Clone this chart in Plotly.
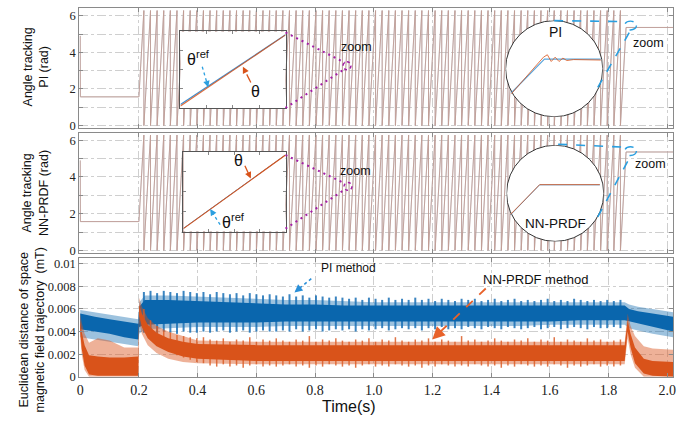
import plotly.graph_objects as go

W, H = 691, 425
def X(p): return p / W
def Y(p): return 1 - p / H

# ---------------- data ----------------
TWO_PI = 6.283
hold_t = [0.0, 0.0005, 0.2]
hold_angle = [4.9, 1.57, 1.57]
wrap_times = [0.2169, 0.2395, 0.2620, 0.2846, 0.3071, 0.3297, 0.3522, 0.3748, 0.3973, 0.4199,
              0.4424, 0.4650, 0.4875, 0.5101, 0.5326, 0.5552, 0.5777, 0.6003, 0.6228, 0.6454,
              0.6679, 0.6905, 0.7130, 0.7356, 0.7581, 0.7807, 0.8032, 0.8258, 0.8483, 0.8709,
              0.8934, 0.9160, 0.9385, 0.9611, 0.9836, 1.0062, 1.0287, 1.0513, 1.0738, 1.0964,
              1.1189, 1.1415, 1.1640, 1.1866, 1.2091, 1.2317, 1.2542, 1.2768, 1.2993, 1.3219,
              1.3444, 1.3670, 1.3895, 1.4121, 1.4346, 1.4572, 1.4797, 1.5023, 1.5248, 1.5474,
              1.5699, 1.5925, 1.6150, 1.6376, 1.6601, 1.6827, 1.7052, 1.7278, 1.7503, 1.7729,
              1.7954, 1.8180, 1.8405]
final_t = [1.8597, 2.02]
final_angle = [5.36, 5.36]

time_ticks = [0, 0.2, 0.4, 0.6, 0.8, 1.0, 1.2, 1.4, 1.6, 1.8, 2.0]
time_labels = ["0", "0.2", "0.4", "0.6", "0.8", "1.0", "1.2", "1.4", "1.6", "1.8", "2.0"]
angle_ticks = [0, 1, 2, 3, 4, 5, 6]
angle_labels = ["0", "", "2", "", "4", "", "6"]
dist_ticks = [0, 0.002, 0.004, 0.006, 0.008, 0.01]
dist_labels = ["0", "0.002", "0.004", "0.006", "0.008", "0.01"]

# Euclidean distance envelopes (x1e-3 mT)
pi_t = [0, 0.05, 0.10, 0.15, 0.198, 0.201, 0.22, 0.3, 0.4, 0.5, 0.6, 0.7, 0.8, 0.9, 1.0,
        1.1, 1.2, 1.3, 1.4, 1.5, 1.6, 1.7, 1.8, 1.855, 1.87, 1.9, 1.95, 2.02]
pi_spike_hi = [5.9, 5.7, 5.5, 5.3, 5.1, 6.6, 7.2, 7.2, 7.1, 7.0, 6.9, 6.8, 6.8, 6.7, 6.6,
               6.6, 6.6, 6.6, 6.6, 6.6, 6.6, 6.6, 6.6, 6.6, 6.4, 6.2, 6.0, 5.7]
pi_core_hi = [5.6, 5.3, 5.1, 4.9, 4.7, 6.2, 6.8, 6.8, 6.7, 6.6, 6.5, 6.4, 6.4, 6.3, 6.3,
              6.3, 6.3, 6.3, 6.3, 6.3, 6.3, 6.3, 6.3, 6.3, 6.0, 5.8, 5.6, 5.3]
pi_core_lo = [4.2, 4.0, 3.8, 3.5, 3.3, 4.4, 4.6, 4.7, 4.8, 4.8, 4.8, 4.9, 4.9, 4.9, 4.9,
              4.9, 4.9, 4.9, 4.9, 4.9, 4.9, 5.0, 5.0, 5.0, 4.9, 4.7, 4.4, 4.0]
pi_spike_lo = [3.5, 3.3, 3.1, 2.9, 2.7, 3.8, 4.2, 4.3, 4.4, 4.4, 4.4, 4.5, 4.5, 4.5, 4.5,
               4.5, 4.5, 4.5, 4.5, 4.5, 4.6, 4.6, 4.6, 4.6, 4.3, 4.1, 3.8, 3.5]

# oscillation peaks / troughs of the PI error at each electrical period
pi_stripe_hi = [7.5, 7.6, 7.4, 7.6, 7.5, 7.4, 7.6, 7.5, 7.4, 7.5,
                7.3, 7.5, 7.4, 7.3, 7.4, 7.2, 7.4, 7.3, 7.2, 7.3,
                7.2, 7.1, 7.3, 7.1, 7.2, 7.0, 7.2, 7.1, 7.0, 7.1,
                7.0, 6.9, 7.0, 6.8, 7.0, 6.9, 6.8, 7.0, 6.8, 6.9,
                6.8, 7.0, 6.8, 6.9, 6.7, 6.9, 6.8, 6.7, 6.9, 6.8,
                6.9, 6.7, 6.8, 6.9, 6.7, 6.8, 6.9, 6.7, 6.8, 6.7,
                6.8, 6.9, 6.7, 6.8, 6.7, 6.9, 6.8, 6.7, 6.8, 6.7,
                6.8, 6.7, 6.8]
pi_stripe_lo = [3.9, 4.0, 3.8, 4.0, 3.9, 3.8, 4.0, 3.9, 3.9, 4.0,
                3.9, 4.0, 4.1, 3.9, 4.0, 4.1, 3.9, 4.0, 4.1, 4.0,
                4.0, 4.1, 4.0, 4.2, 4.0, 4.1, 4.2, 4.0, 4.1, 4.2,
                4.1, 4.2, 4.0, 4.2, 4.1, 4.2, 4.3, 4.1, 4.2, 4.3,
                4.2, 4.3, 4.1, 4.3, 4.2, 4.4, 4.2, 4.3, 4.2, 4.4,
                4.3, 4.2, 4.4, 4.3, 4.2, 4.4, 4.3, 4.2, 4.3, 4.4,
                4.2, 4.3, 4.4, 4.2, 4.3, 4.4, 4.3, 4.2, 4.4, 4.3,
                4.3, 4.4, 4.3]

nn_t = [0, 0.005, 0.015, 0.03, 0.06, 0.1, 0.15, 0.198, 0.201, 0.21, 0.23, 0.26, 0.3, 0.35,
        0.4, 0.6, 0.8, 1.0, 1.2, 1.4, 1.6, 1.8, 1.855, 1.865, 1.875, 1.89, 1.92, 1.95, 2.02]
nn_spike_hi = [5.6, 4.8, 3.8, 3.0, 3.4, 3.2, 2.6, 2.6, 7.0, 6.2, 5.2, 4.5, 4.0, 3.6,
               3.2, 3.1, 3.1, 3.1, 3.1, 3.1, 3.1, 3.1, 3.1, 5.6, 4.5, 3.6, 2.7, 2.5, 2.4]
nn_core_hi = [5.0, 4.0, 2.8, 1.9, 1.8, 1.7, 1.7, 1.8, 6.4, 5.6, 4.6, 3.9, 3.4, 3.1,
              2.9, 2.8, 2.8, 2.8, 2.8, 2.8, 2.8, 2.8, 2.8, 5.0, 3.8, 2.6, 1.6, 1.4, 1.3]
nn_core_lo = [4.0, 2.5, 1.0, 0.2, 0.1, 0.1, 0.1, 0.1, 5.4, 4.4, 3.4, 2.7, 2.2, 1.8,
              1.6, 1.4, 1.4, 1.4, 1.4, 1.4, 1.4, 1.4, 1.4, 4.0, 2.6, 1.2, 0.3, 0.1, 0.0]
nn_spike_lo = [3.5, 2.0, 0.6, 0.0, 0.0, 0.0, 0.0, 0.0, 4.8, 3.8, 2.8, 2.1, 1.6, 1.3,
               1.2, 1.1, 1.1, 1.1, 1.1, 1.1, 1.1, 1.1, 1.1, 3.4, 2.0, 0.8, 0.0, 0.0, 0.0]
nn_stripe_hi = [6.0, 5.0, 4.5, 4.1, 3.9, 3.7, 3.6, 3.5, 3.4, 3.5,
                3.3, 3.2, 3.4, 3.1, 3.3, 3.2, 3.5, 3.1, 3.3, 3.2,
                3.4, 3.2, 3.1, 3.3, 3.2, 3.6, 3.1, 3.3, 3.2, 3.4,
                3.2, 3.1, 3.3, 3.2, 3.4, 3.1, 3.3, 3.2, 3.5, 3.2,
                3.1, 3.3, 3.2, 3.4, 3.1, 3.3, 3.2, 3.1, 3.6, 3.2,
                3.3, 3.1, 3.2, 3.4, 3.2, 3.1, 3.3, 3.2, 3.4, 3.1,
                3.3, 3.2, 3.5, 3.1, 3.3, 3.2, 3.1, 3.4, 3.2, 3.3,
                3.1, 3.2, 3.3]
nn_stripe_lo = [4.6, 3.6, 3.0, 2.5, 2.2, 1.9, 1.7, 1.5, 1.3, 1.2,
                1.0, 0.9, 1.1, 0.9, 1.0, 0.8, 1.0, 1.1, 0.9, 1.0,
                0.9, 1.0, 1.1, 0.9, 1.0, 0.8, 1.0, 0.9, 1.1, 1.0,
                0.9, 1.0, 0.8, 1.0, 1.1, 0.9, 1.0, 0.9, 1.1, 1.0,
                0.9, 1.0, 0.8, 1.0, 0.9, 1.1, 1.0, 0.9, 1.0, 0.9,
                1.1, 1.0, 0.9, 1.0, 0.8, 1.0, 0.9, 1.1, 1.0, 0.9,
                1.0, 0.9, 1.1, 1.0, 0.8, 1.0, 0.9, 1.0, 1.1, 0.9,
                1.0, 0.9, 1.0]

# zoomed insets (normalised)
box1_x = [0.0, 0.25, 0.5, 0.75, 1.0]
box1_ref = [0.045, 0.275, 0.50, 0.73, 0.955]
box1_theta = [0.025, 0.255, 0.49, 0.725, 0.955]
box2_x = [0.0, 1.0]
box2_ref = [0.04, 0.965]
box2_theta = [0.037, 0.963]
pi_zoom_x = [0.06, 0.39, 0.43, 0.47, 0.51, 0.55, 0.59, 0.63, 0.70, 0.98]
pi_zoom_theta = [0.24, 0.62, 0.645, 0.575, 0.62, 0.575, 0.61, 0.585, 0.595, 0.59]
pi_zoom_ref_x = [0.06, 0.40, 0.98]
pi_zoom_ref = [0.25, 0.60, 0.60]
nn_zoom_x = [0.04, 0.34, 0.96]
nn_zoom_theta = [0.28, 0.59, 0.59]
nn_zoom_ref = [0.275, 0.588, 0.588]

# ---------------- styles ----------------
REF_C = "#a7a8b6"
TH_C = "#d6937a"
BLUE = "#0a66ad"
ORANGE = "#d9531a"
PURPLE = "#a21ea6"
CYAN = "#2a9fe0"
GRID = "#cfcfcf"
AX = "#8a8a8a"
SANS = "Liberation Sans"
SERIF = "Liberation Serif"

def angle_path():
    xs = list(hold_t)
    ys = list(hold_angle)
    for w in wrap_times:
        xs += [w, w]
        ys += [TWO_PI, 0.0]
    xs += final_t
    ys += final_angle
    return xs, ys

fig = go.Figure()
ax_, ay_ = angle_path()
for xa, ya in (("x", "y"), ("x2", "y2")):
    fig.add_trace(go.Scatter(x=ax_, y=ay_, mode="lines", xaxis=xa, yaxis=ya,
                             line=dict(color=REF_C, width=0.9)))
    fig.add_trace(go.Scatter(x=ax_, y=ay_, mode="lines", xaxis=xa, yaxis=ya, opacity=0.6,
                             line=dict(color=TH_C, width=0.8)))

def band(t, hi, lo, color, op):
    xs = list(t) + list(t)[::-1]
    ys = [v * 1e-3 for v in hi] + [v * 1e-3 for v in lo][::-1]
    fig.add_trace(go.Scatter(x=xs, y=ys, mode="lines", fill="toself", xaxis="x3", yaxis="y3",
                             fillcolor=color, opacity=op, line=dict(width=0, color=color)))

def stripes(t, hi, lo, color, width, op):
    xs, ys = [], []
    for ti, h, l in zip(t, hi, lo):
        xs += [ti, ti, None]
        ys += [l * 1e-3, h * 1e-3, None]
    fig.add_trace(go.Scatter(x=xs, y=ys, mode="lines", xaxis="x3", yaxis="y3", opacity=op,
                             line=dict(color=color, width=width)))

band(pi_t, pi_spike_hi, pi_spike_lo, BLUE, 0.4)
stripes(wrap_times, pi_stripe_hi, pi_stripe_lo, "#1a70b6", 2.0, 0.85)
band(pi_t, pi_core_hi, pi_core_lo, BLUE, 1.0)
band(nn_t, nn_spike_hi, nn_spike_lo, ORANGE, 0.45)
stripes(wrap_times, nn_stripe_hi, nn_stripe_lo, "#dc5e28", 1.5, 0.85)
band(nn_t, nn_core_hi, nn_core_lo, ORANGE, 1.0)

# inset contents
fig.add_trace(go.Scatter(x=box1_x, y=box1_ref, mode="lines", xaxis="x4", yaxis="y4",
                         line=dict(color="#3d8fd0", width=1.2)))
fig.add_trace(go.Scatter(x=box1_x, y=box1_theta, mode="lines", xaxis="x4", yaxis="y4",
                         line=dict(color=ORANGE, width=1.1), opacity=0.85))
fig.add_trace(go.Scatter(x=box2_x, y=box2_ref, mode="lines", xaxis="x5", yaxis="y5",
                         line=dict(color="#3d8fd0", width=1.0)))
fig.add_trace(go.Scatter(x=box2_x, y=box2_theta, mode="lines", xaxis="x5", yaxis="y5",
                         line=dict(color=ORANGE, width=1.1)))
fig.add_trace(go.Scatter(x=pi_zoom_ref_x, y=pi_zoom_ref, mode="lines", xaxis="x6", yaxis="y6",
                         line=dict(color="#5aa6dc", width=1.1)))
fig.add_trace(go.Scatter(x=pi_zoom_x, y=pi_zoom_theta, mode="lines", xaxis="x6", yaxis="y6",
                         line=dict(color=ORANGE, width=1.0), opacity=0.8))
fig.add_trace(go.Scatter(x=nn_zoom_x, y=nn_zoom_ref, mode="lines", xaxis="x7", yaxis="y7",
                         line=dict(color="#5aa6dc", width=1.0)))
fig.add_trace(go.Scatter(x=nn_zoom_x, y=nn_zoom_theta, mode="lines", xaxis="x7", yaxis="y7",
                         line=dict(color=ORANGE, width=1.0), opacity=0.8))

# ---------------- axes ----------------
xdom = [X(77), X(676)]
common_x = dict(domain=xdom, range=[-0.003, 2.02], tickvals=time_ticks, ticktext=time_labels,
                ticks="inside", ticklen=4, tickcolor=AX, showline=True, linecolor=AX, linewidth=1,
                mirror="ticks", showgrid=True, gridcolor=GRID, griddash="dashdot", gridwidth=1,
                zeroline=False, tickfont=dict(family=SERIF, size=14, color="#222"))
common_y = dict(ticks="inside", ticklen=4, tickcolor=AX, showline=True, linecolor=AX, linewidth=1,
                mirror="ticks", showgrid=True, gridcolor=GRID, griddash="dashdot", gridwidth=1,
                zeroline=False, tickfont=dict(family=SERIF, size=12.5, color="#222"))

def inset_axes(xd, yd, show):
    a = dict(domain=xd, range=[0, 1], showgrid=False, zeroline=False, showticklabels=False,
             fixedrange=True)
    b = dict(domain=yd, range=[0, 1], showgrid=False, zeroline=False, showticklabels=False,
             fixedrange=True)
    if show:
        for d in (a, b):
            d.update(showline=True, linecolor="#555", linewidth=1, mirror="ticks",
                     ticks="inside", ticklen=2.5, tickcolor="#888", tickvals=[0.25, 0.5, 0.75])
    else:
        a.update(visible=False)
        b.update(visible=False)
    return a, b

b1x, b1y = inset_axes([X(179), X(285)], [Y(109), Y(31)], True)
b2x, b2y = inset_axes([X(182), X(285)], [Y(235), Y(154)], True)
c1x, c1y = inset_axes([X(507), X(605)], [Y(118), Y(20)], False)
c2x, c2y = inset_axes([X(508), X(606)], [Y(245), Y(147)], False)

fig.update_layout(
    width=W, height=H, margin=dict(l=0, r=0, t=0, b=0),
    paper_bgcolor="white", plot_bgcolor="rgba(0,0,0,0)", showlegend=False,
    xaxis=dict(common_x, anchor="y", showticklabels=False),
    yaxis=dict(common_y, domain=[Y(129), Y(7)], range=[-0.107, 6.43], anchor="x",
               tickvals=angle_ticks, ticktext=angle_labels),
    xaxis2=dict(common_x, anchor="y2", showticklabels=False),
    yaxis2=dict(common_y, domain=[Y(257), Y(135)], range=[-0.15, 6.37], anchor="x2",
                tickvals=angle_ticks, ticktext=angle_labels),
    xaxis3=dict(common_x, anchor="y3"),
    yaxis3=dict(common_y, domain=[Y(383), Y(262)], range=[0, 0.0105], anchor="x3",
                tickvals=dist_ticks, ticktext=dist_labels),
    xaxis4=dict(b1x, anchor="y4"), yaxis4=dict(b1y, anchor="x4"),
    xaxis5=dict(b2x, anchor="y5"), yaxis5=dict(b2y, anchor="x5"),
    xaxis6=dict(c1x, anchor="y6"), yaxis6=dict(c1y, anchor="x6"),
    xaxis7=dict(c2x, anchor="y7"), yaxis7=dict(c2y, anchor="x7"),
)

# ---------------- shapes & annotations ----------------
shapes = []
annos = []
shapes.append(dict(type="rect", xref="x4", yref="y4", x0=0, x1=1, y0=0, y1=1, layer="below",
                   fillcolor="white", line=dict(width=0)))
shapes.append(dict(type="rect", xref="x5", yref="y5", x0=0, x1=1, y0=0, y1=1, layer="below",
                   fillcolor="white", line=dict(width=0)))
shapes.append(dict(type="circle", xref="x6", yref="y6", x0=0, x1=1, y0=0, y1=1, layer="below",
                   fillcolor="white", line=dict(width=1, color="#333")))
shapes.append(dict(type="circle", xref="x7", yref="y7", x0=0, x1=1, y0=0, y1=1, layer="below",
                   fillcolor="white", line=dict(width=1, color="#333")))

def pline(x0, y0, x1, y1, color, dash, width):
    shapes.append(dict(type="line", xref="paper", yref="paper", x0=X(x0), y0=Y(y0),
                       x1=X(x1), y1=Y(y1), line=dict(color=color, dash=dash, width=width)))

def pcircle(cx, cy, rx, ry, color, dash, width):
    shapes.append(dict(type="circle", xref="paper", yref="paper", x0=X(cx - rx), x1=X(cx + rx),
                       y0=Y(cy + ry), y1=Y(cy - ry), line=dict(color=color, dash=dash, width=width)))

def arrow(x0, y0, x1, y1, color, dash, width, head=1.0, L=7):
    dx, dy = x1 - x0, y1 - y0
    n = (dx * dx + dy * dy) ** 0.5
    ux, uy = dx / n, dy / n
    pline(x0, y0, x1 - ux * L * 0.6, y1 - uy * L * 0.6, color, dash, width)
    annos.append(dict(x=X(x1), y=Y(y1), xref="paper", yref="paper", text="", showarrow=True,
                      ax=-ux * L, ay=-uy * L, arrowhead=2, arrowsize=head, arrowwidth=width,
                      arrowcolor=color))

def text(x, y, s, size, family=SANS, color="#111", angle=0):
    annos.append(dict(x=X(x), y=Y(y), xref="paper", yref="paper", text=s, showarrow=False,
                      xanchor="center", yanchor="middle", textangle=angle,
                      font=dict(family=family, size=size, color=color)))

DOTS = "2px,4px"
# panel 1 decorations
pline(285, 32, 345, 63, PURPLE, DOTS, 2)
pline(285, 109, 345, 69, PURPLE, DOTS, 2)
pcircle(347, 66, 4, 4, PURPLE, "dot", 1.5)
text(357, 47, "zoom", 12.5)
text(197, 58, "θ<sup>ref</sup>", 16)
arrow(201, 67, 207, 88, CYAN, "dot", 1.3)
text(255, 92, "θ", 16)
arrow(250, 83, 242, 67, ORANGE, "dash", 1.3)
pline(556, 20, 628, 21, CYAN, "dash", 1.6)
pline(600, 88, 633, 30, CYAN, "dash", 1.6)
pcircle(633, 25, 6, 4.5, CYAN, "dash", 1.4)
text(651, 43, "zoom", 12.5)
text(557, 32, "PI", 14)

# panel 2 decorations
pline(285, 157, 345, 186, PURPLE, DOTS, 2)
pline(285, 232, 345, 192, PURPLE, DOTS, 2)
pcircle(348, 189, 4, 4, PURPLE, "dot", 1.5)
text(356, 173, "zoom", 12.5)
text(238, 163, "θ", 16)
arrow(244, 168, 250, 181, ORANGE, "dash", 1.3)
text(233, 224, "θ<sup>ref</sup>", 16)
arrow(219, 228, 209, 212, CYAN, "dot", 1.3)
pline(560, 146, 628, 149, CYAN, "dash", 1.6)
pline(600, 220, 633, 158, CYAN, "dash", 1.6)
pcircle(633, 153, 6, 4.5, CYAN, "dash", 1.4)
text(653, 166, "zoom", 12.5)
text(557, 227, "NN-PRDF", 13.5)

# bottom panel decorations
text(349, 272, "PI method", 12)
arrow(311, 283, 294, 297, "#2a8fd8", "dot", 1.6)
text(537, 284, "NN-PRDF method", 13)
arrow(487, 293, 433, 345, "#e8622a", "dash", 1.8, head=1.4, L=12)

# axis titles
text(33, 67, "Angle tracking<br>PI (rad)", 12.5, angle=-90)
text(33, 196, "Angle tracking<br>NN-PRDF (rad)", 12.5, angle=-90)
text(29, 335, "Euclidean distance of space<br>magnetic field trajectory  (mT)", 12.5, angle=-90)
text(349, 413, "Time(s)", 16)

fig.update_layout(shapes=shapes, annotations=annos)
fig.write_html("out.html")
